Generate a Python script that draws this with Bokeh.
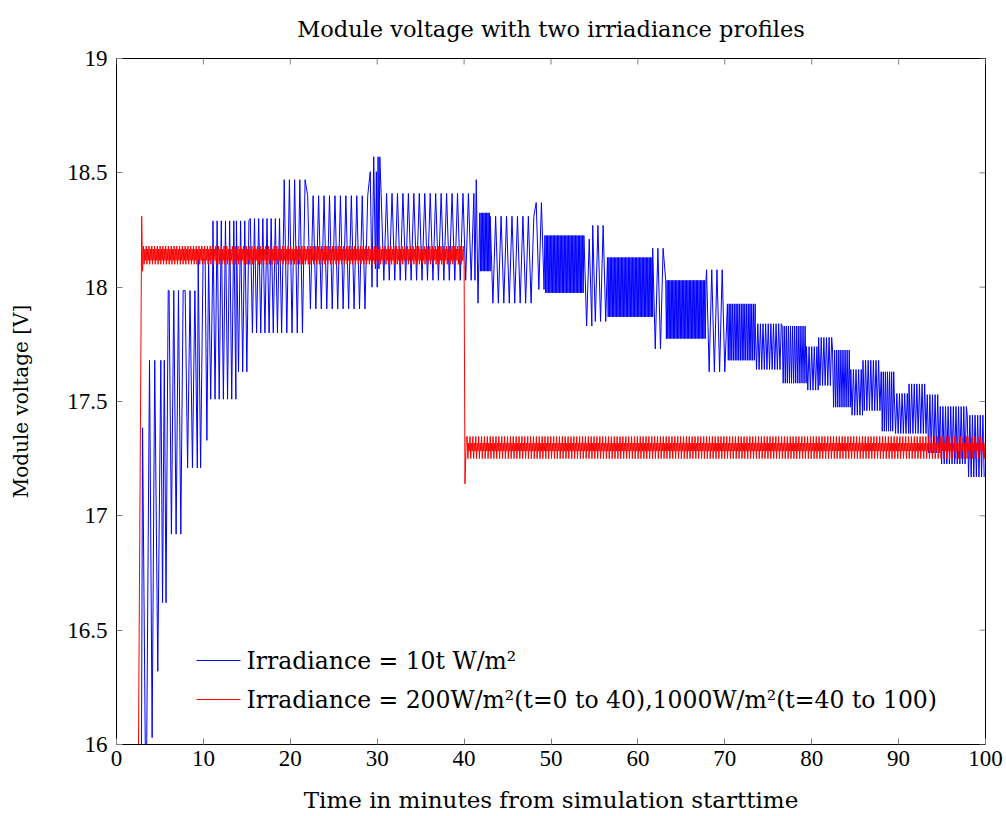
import numpy as np
from bokeh.plotting import figure
from bokeh.models import Range1d, FixedTicker
from bokeh.core.properties import value
from bokeh.embed import file_html
from bokeh.resources import INLINE

title_text = "Module voltage with two irriadiance profiles"
x_label = "Time in minutes from simulation starttime"
y_label = "Module voltage [V]"
x_ticks = [0, 10, 20, 30, 40, 50, 60, 70, 80, 90, 100]
y_ticks = [16, 16.5, 17, 17.5, 18, 18.5, 19]
legend_labels = ["Irradiance = 10t W/m²",
                 "Irradiance = 200W/m²(t=0 to 40),1000W/m²(t=40 to 100)"]
legend_colors = ["#0000ff", "#ff0000"]

# ---- blue series (irradiance = 10t) ----
# individual extremes
blue_pts_t = [2.84, 3.0, 3.4, 3.8, 4.1, 4.4, 4.75, 5.1, 5.3, 5.5, 5.7, 5.95,
              29.2, 29.4, 29.6, 29.8, 29.9, 30.0, 30.1, 30.2, 30.3,
              41.25, 41.4, 41.6]
blue_pts_v = [15.6, 17.385, 15.6, 17.68, 16.03, 17.68, 16.32, 17.68, 16.62, 17.68, 16.62, 17.985,
              18.505, 18.00, 18.57, 18.08, 18.505, 18.00, 18.57, 18.08, 18.57,
              18.03, 18.47, 17.93]
# oscillation bands: start, end, upper level, lower level, time between extremes
blue_seg_start = [6.05, 7.9, 9.4, 10.2, 10.6, 11.1, 13.8, 15.4, 19.3, 22.0, 30.45,
                  41.8, 43.0, 48.3, 49.3, 53.8, 54.8, 56.5, 61.7, 63.2, 67.9,
                  70.3, 73.5, 76.6, 79.4, 80.8, 82.4, 84.5, 85.9, 88.0, 89.5,
                  91.2, 93.3, 94.8, 97.9]
blue_seg_end = [7.9, 9.4, 10.2, 10.6, 11.1, 13.8, 15.4, 19.3, 22.0, 29.0, 41.15,
                43.0, 48.3, 49.3, 53.8, 54.8, 56.5, 61.7, 63.2, 67.9, 70.3,
                73.5, 76.6, 79.4, 80.8, 82.4, 84.5, 85.9, 88.0, 89.5, 91.2,
                93.3, 94.8, 97.9, 100.0]
blue_seg_high = [17.985, 17.985, 18.12, 18.12, 18.12, 18.29, 18.29, 18.30, 18.47, 18.40, 18.41,
                 18.325, 18.31, 18.37, 18.226, 18.21, 18.27, 18.13, 18.17, 18.03, 18.076,
                 17.927, 17.84, 17.83, 17.74, 17.78, 17.725, 17.64, 17.68, 17.63, 17.535,
                 17.577, 17.53, 17.478, 17.44]
blue_seg_low = [16.92, 17.21, 17.21, 17.33, 17.51, 17.51, 17.63, 17.80, 17.80, 17.905, 18.03,
                18.07, 17.93, 17.99, 17.975, 17.83, 17.85, 17.87, 17.73, 17.775, 17.63,
                17.68, 17.64, 17.58, 17.55, 17.57, 17.475, 17.44, 17.46, 17.37, 17.36,
                17.36, 17.275, 17.227, 17.17]
blue_seg_step = [0.27, 0.28, 0.28, 0.2, 0.24, 0.24, 0.24, 0.24, 0.3, 0.314, 0.314,
                 0.08, 0.314, 0.3, 0.08, 0.3, 0.3, 0.08, 0.3, 0.08, 0.3,
                 0.1, 0.15, 0.12, 0.15, 0.15, 0.12, 0.15, 0.15, 0.12, 0.15,
                 0.15, 0.15, 0.15, 0.15]

# ---- red series (irradiance = 200 then 1000) ----
red_pts_t = [2.45, 2.9, 3.0, 40.0, 40.1, 40.25]
red_pts_v = [15.5, 18.31, 18.07, 18.10, 17.14, 17.34]
red_seg_start = [3.1, 40.35]
red_seg_end = [39.95, 100.0]
red_seg_high = [18.18, 17.347]
red_seg_low = [18.10, 17.25]
red_seg_inner_high = [18.167, 17.318]
red_seg_inner_low = [18.117, 17.283]
red_seg_step = [0.08, 0.083]


def build(pt_t, pt_v, s0, s1, level_lists, st):
    ts = list(pt_t)
    vs = list(pt_v)
    for a, b, levels, d in zip(s0, s1, level_lists, st):
        grid = np.arange(a, b, d)
        for i, t in enumerate(grid):
            ts.append(float(t))
            vs.append(levels[i % len(levels)])
    order = np.argsort(ts, kind="stable")
    return np.array(ts)[order], np.array(vs)[order]


bt, bv = build(blue_pts_t, blue_pts_v, blue_seg_start, blue_seg_end,
               [[h, l] for h, l in zip(blue_seg_high, blue_seg_low)], blue_seg_step)
rt, rv = build(red_pts_t, red_pts_v, red_seg_start, red_seg_end,
               [[h, l, ih, il] for h, l, ih, il in zip(red_seg_high, red_seg_low,
                                                      red_seg_inner_high, red_seg_inner_low)],
               red_seg_step)

NUM = "Liberation Serif"
TXT = "DejaVu Serif"
LEFT, RIGHT, TOP, BOTTOM = 116, 21, 58, 72
FRAME_W = 1006 - LEFT - RIGHT
FRAME_H = 816 - TOP - BOTTOM
X0, X1, Y0, Y1 = 0, 100, 16, 19


def sx(px):   # screen x (from figure left) -> data x
    return X0 + (px - LEFT) * (X1 - X0) / FRAME_W


def sy(py):   # screen y (from figure top) -> data y
    return Y0 + (TOP + FRAME_H - py) * (Y1 - Y0) / FRAME_H


p = figure(width=1006, height=816, output_backend="svg", toolbar_location=None,
           x_range=Range1d(X0, X1), y_range=Range1d(Y0, Y1),
           min_border_left=LEFT, min_border_right=RIGHT, min_border_top=TOP,
           min_border_bottom=BOTTOM, x_axis_label=x_label, y_axis_label=y_label)

xb = p.below[0]
yl = p.left[0]

p.title.text = title_text
p.title.align = "center"
p.title.vertical_align = "top"
p.title.standoff = 30
p.title.text_font = TXT
p.title.text_font_size = "22.5px"
p.title.text_font_style = "normal"
p.title.text_color = "black"

p.grid.visible = False
p.outline_line_color = "black"
p.outline_line_width = 1
p.background_fill_color = "white"
p.border_fill_color = "white"

p.line(bt, bv, line_color="#0000ff", line_width=1)
p.line(rt, rv, line_color="#ff0000", line_width=1)

for ax in (xb, yl):
    ax.axis_line_color = None
    ax.major_tick_in = 6
    ax.major_tick_out = 0
    ax.major_tick_line_color = "#7f7f7f"
    ax.minor_tick_line_color = None
    ax.major_label_text_font = NUM
    ax.major_label_text_font_size = "23px"
    ax.major_label_text_color = "black"
    ax.axis_label_text_font = TXT
    ax.axis_label_text_font_style = "normal"
    ax.axis_label_text_color = "black"
xb.axis_label_text_font_size = "23px"
yl.axis_label_text_font_size = "20px"
xb.ticker = FixedTicker(ticks=x_ticks)
yl.ticker = FixedTicker(ticks=y_ticks)
xb.major_label_standoff = 6
yl.major_label_standoff = 9
xb.axis_label_standoff = 18
yl.axis_label_standoff = 31

# inward ticks on the top and right edges of the frame
tick_dx = 6 * (X1 - X0) / FRAME_W
tick_dy = 6 * (Y1 - Y0) / FRAME_H
p.segment(x0=x_ticks, y0=[Y1] * len(x_ticks), x1=x_ticks, y1=[Y1 - tick_dy] * len(x_ticks),
          line_color="#7f7f7f", line_width=1)
p.segment(x0=[X1] * len(y_ticks), y0=y_ticks, x1=[X1 - tick_dx] * len(y_ticks), y1=y_ticks,
          line_color="#7f7f7f", line_width=1)

# legend (drawn as swatches + text in the lower left of the frame)
row_py = [660, 699]
p.segment(x0=[sx(196)] * 2, x1=[sx(240)] * 2, y0=[sy(r) for r in row_py],
          y1=[sy(r) for r in row_py], line_color=legend_colors, line_width=1.2)
p.text(x=[sx(246)] * 2, y=[sy(r) for r in row_py], text=legend_labels,
       text_font=value(TXT), text_font_size=value("23.5px"), text_color="black",
       text_align="left", text_baseline="middle")

open("out.html", "w").write(file_html(p, INLINE))
